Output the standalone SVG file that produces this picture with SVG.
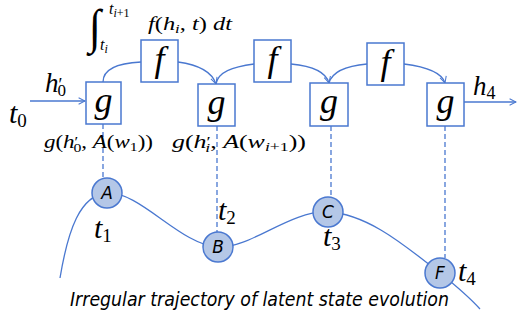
<svg xmlns="http://www.w3.org/2000/svg" width="517" height="322" viewBox="0 0 517 322">
<style>
.box{fill:#fff;stroke:#4a78d0;stroke-width:1.5}
.big{font-family:"Liberation Serif","Times New Roman","DejaVu Serif",serif;font-style:italic;font-size:36px;fill:#000;text-anchor:middle}
.m{font-family:"Liberation Serif","Times New Roman","DejaVu Serif",serif;font-style:italic;fill:#000}
.up{font-style:normal}
.con{fill:none;stroke:#4a78d0;stroke-width:1.3}
.dash{fill:none;stroke:#4a78d0;stroke-width:1.3;stroke-dasharray:5 3}
.circ{fill:#b4c7e7;stroke:#4a78d0;stroke-width:1.5}
.cl{font-family:"DejaVu Sans",sans-serif;font-style:italic;font-size:17px;fill:#000;text-anchor:middle}
.cap{font-family:"DejaVu Sans",sans-serif;font-style:italic;font-size:19px;fill:#000}
</style>
<defs>
<marker id="ar" viewBox="0 0 10 10" refX="9" refY="5" markerWidth="8" markerHeight="8" markerUnits="userSpaceOnUse" orient="auto">
<path d="M1,1 L9,5 L1,9" fill="none" stroke="#4a78d0" stroke-width="1.3"/>
</marker>
</defs>
<g id="connectors">
<path class="con" d="M60,278 C68,230 80,195 107,193 C140,191 180,245 218,247 C250,249 290,210 328,212 C370,214 410,250 440,273 C455,285 470,298 480,309"/>
<path class="con" d="M30,101 L85,101" marker-end="url(#ar)"/>
<path class="con" d="M464,102 L516,102" marker-end="url(#ar)"/>
<path class="con" d="M103,82 C103,68 120,63 141,62"/>
<path class="con" d="M178,62 C200,65 212,72 216,84" marker-end="url(#ar)"/>
<path class="con" d="M254,64 C232,67 218,72 216,84"/>
<path class="con" d="M291,64 C312,66 326,72 329,83" marker-end="url(#ar)"/>
<path class="con" d="M367,64 C345,66 332,72 329,83"/>
<path class="con" d="M404,64 C428,67 442,73 445,83" marker-end="url(#ar)"/>
<path class="dash" d="M103,124 L103,178"/>
<path class="dash" d="M217,126 L217,232"/>
<path class="dash" d="M331,126 L331,197"/>
<path class="dash" d="M445,126 L445,258"/>
</g>
<g id="g1"><rect class="box" x="86" y="82" width="35" height="42"/><text class="big" x="103.5" y="112">g</text></g>
<g id="f1"><rect class="box" x="141" y="40" width="37" height="42"/><text class="big" x="159.5" y="71">f</text></g>
<g id="g2"><rect class="box" x="198" y="84" width="37" height="42"/><text class="big" x="216.5" y="114">g</text></g>
<g id="f2"><rect class="box" x="254" y="40" width="37" height="42"/><text class="big" x="272.5" y="71">f</text></g>
<g id="g3"><rect class="box" x="310" y="83" width="38" height="43"/><text class="big" x="329" y="113">g</text></g>
<g id="f3"><rect class="box" x="367" y="43" width="37" height="42"/><text class="big" x="385.5" y="74">f</text></g>
<g id="g4"><rect class="box" x="427" y="83" width="37" height="43"/><text class="big" x="445.5" y="113">g</text></g>
<g id="A"><circle class="circ" cx="107" cy="193" r="15"/><text class="cl" x="107" y="199">A</text></g>
<g id="B"><circle class="circ" cx="218" cy="247" r="15"/><text class="cl" x="218" y="253">B</text></g>
<g id="C"><circle class="circ" cx="328" cy="212" r="15"/><text class="cl" x="328" y="218">C</text></g>
<g id="F"><circle class="circ" cx="440" cy="273" r="15"/><text class="cl" x="440" y="279">F</text></g>
<g id="labels">
<text class="m" font-size="30" x="9" y="123">t<tspan class="up" font-size="19" dy="4">0</tspan></text>
<text class="m" font-size="27" x="45" y="92">h<tspan class="up" font-size="18" dy="-1">′</tspan><tspan class="up" font-size="17" dx="-5" dy="5">0</tspan></text>
<text class="m" font-size="27" x="473" y="95">h<tspan class="up" font-size="18" dy="4">4</tspan></text>
<text class="m" font-size="30" x="94" y="238">t<tspan class="up" font-size="19" dy="4">1</tspan></text>
<text class="m" font-size="30" x="218" y="220">t<tspan class="up" font-size="19" dy="4">2</tspan></text>
<text class="m" font-size="30" x="323" y="246">t<tspan class="up" font-size="19" dy="4">3</tspan></text>
<text class="m" font-size="30" x="458" y="281">t<tspan class="up" font-size="19" dy="4">4</tspan></text>
<text class="m" font-size="44" transform="translate(89,43) scale(1,1.1)" x="0" y="0">∫</text>
<text class="m" font-size="16" x="109" y="14">t<tspan font-size="12" dy="3">i</tspan><tspan class="up" font-size="12">+1</tspan></text>
<text class="m" font-size="16" x="100" y="50">t<tspan font-size="12" dy="3">i</tspan></text>
<text class="m" font-size="19" x="148" y="30" textLength="84" lengthAdjust="spacingAndGlyphs">f<tspan class="up">(</tspan>h<tspan font-size="13" dy="3">i</tspan><tspan class="up" dy="-3">, </tspan>t<tspan class="up">) </tspan>dt</text>
<text class="m" font-size="19" x="44" y="148" textLength="109" lengthAdjust="spacingAndGlyphs">g<tspan class="up">(</tspan>h<tspan class="up" font-size="14" dy="-1">′</tspan><tspan class="up" font-size="13" dx="-4" dy="5">0</tspan><tspan class="up" dy="-4">, </tspan>A<tspan class="up">(</tspan>w<tspan class="up" font-size="13" dy="3">1</tspan><tspan class="up" dy="-3">))</tspan></text>
<text class="m" font-size="19" x="172" y="148" textLength="134" lengthAdjust="spacingAndGlyphs">g<tspan class="up">(</tspan>h<tspan class="up" font-size="14" dy="-1">′</tspan><tspan font-size="13" dx="-4" dy="5">i</tspan><tspan class="up" dy="-4">, </tspan>A<tspan class="up">(</tspan>w<tspan font-size="13" dy="3">i</tspan><tspan class="up" font-size="13">+1</tspan><tspan class="up" dy="-3">))</tspan></text>
<text class="cap" x="70" y="306" textLength="379" lengthAdjust="spacingAndGlyphs">Irregular trajectory of latent state evolution</text>
</g>
</svg>
